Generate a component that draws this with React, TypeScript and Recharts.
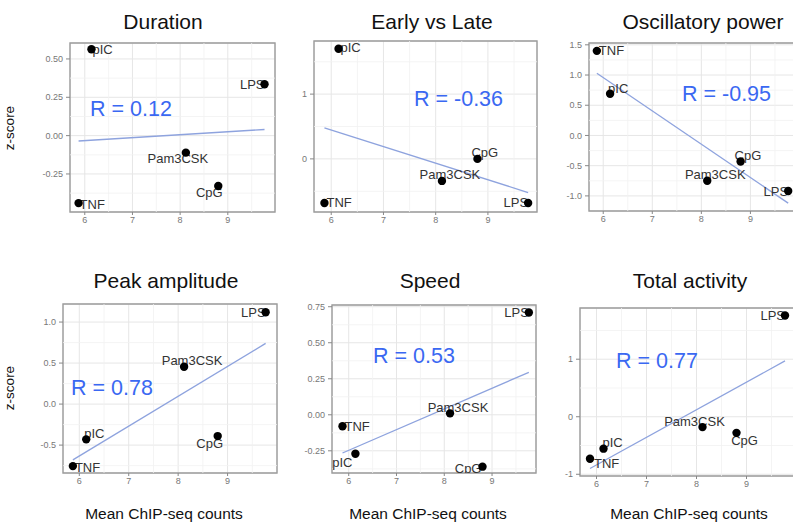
import { ScatterChart, Scatter, XAxis, YAxis, CartesianGrid, ReferenceLine, ReferenceArea } from "recharts"

// stimuli and their mean ChIP-seq counts (x, shared by every panel)
const stimuli = ["TNF", "pIC", "Pam3CSK", "CpG", "LPS"]
const chipCounts = [5.87, 6.14, 8.12, 8.8, 9.77]

// z-scores per feature, same order as stimuli
const duration = [-0.44, 0.563, -0.111, -0.328, 0.335]
const earlyVsLate = [-0.68, 1.7, -0.34, 0.0, -0.68]
const oscillatoryPower = [1.4, 0.69, -0.75, -0.43, -0.92]
const peakAmplitude = [-0.756, -0.43, 0.455, -0.39, 1.12]
const speed = [-0.08, -0.27, 0.01, -0.36, 0.71]
const totalActivity = [-0.73, -0.555, -0.18, -0.28, 1.76]

const panelTitles = ["Duration", "Early vs Late", "Oscillatory power", "Peak amplitude", "Speed", "Total activity"]
const rLabels = ["R = 0.12", "R = -0.36", "R = -0.95", "R = 0.78", "R = 0.53", "R = 0.77"]

// fitted line values at the smallest and the largest x
const fitStart = [-0.035, 0.48, 1.03, -0.68, -0.265, -0.9]
const fitEnd = [0.04, -0.52, -1.12, 0.74, 0.295, 0.97]

const xTicks = [6, 7, 8, 9]
const yTicks = [
  [-0.25, 0, 0.25, 0.5],
  [0, 1],
  [-1, -0.5, 0, 0.5, 1, 1.5],
  [-0.5, 0, 0.5, 1],
  [-0.25, 0, 0.25, 0.5, 0.75],
  [-1, 0, 1],
]
const yDecimals = [2, 0, 1, 1, 2, 0]
const series = [duration, earlyVsLate, oscillatoryPower, peakAmplitude, speed, totalActivity]

type Place = [string, number, number]
interface Panel {
  left: number
  top: number
  width: number
  height: number
  xDomain: [number, number]
  yDomain: [number, number]
  titleX: number
  titleY: number
  rX: number
  rY: number
  labels: Record<string, Place>
}

const panels: Panel[] = [
  {
    left: 70, top: 43, width: 205, height: 169, xDomain: [5.69, 9.99], yDomain: [-0.498, 0.604],
    titleX: 163, titleY: 29, rX: 90, rY: 116,
    labels: { TNF: ["start", 1, 1], pIC: ["start", 1, 0], Pam3CSK: ["middle", -8, 6], CpG: ["middle", -9, 7], LPS: ["end", 0, 0] },
  },
  {
    left: 314, top: 41, width: 223, height: 171, xDomain: [5.67, 9.94], yDomain: [-0.82, 1.82],
    titleX: 432, titleY: 29, rX: 414, rY: 106,
    labels: { TNF: ["start", 2, 0], pIC: ["start", 2, -1], Pam3CSK: ["middle", 8, -6], CpG: ["start", -6, -6], LPS: ["end", 0, 0] },
  },
  {
    left: 589, top: 43, width: 209, height: 168, xDomain: [5.71, 9.97], yDomain: [-1.25, 1.53],
    titleX: 703, titleY: 29, rX: 682, rY: 101,
    labels: { TNF: ["start", 2, 0], pIC: ["start", -2, -5], Pam3CSK: ["middle", 8, -6], CpG: ["start", -6, -6], LPS: ["end", 0, 0] },
  },
  {
    left: 63, top: 304, width: 214, height: 169, xDomain: [5.67, 10.0], yDomain: [-0.84, 1.22],
    titleX: 166, titleY: 288, rX: 71, rY: 395,
    labels: { TNF: ["start", 2, 1], pIC: ["start", -2, -6], Pam3CSK: ["middle", 8, -6], CpG: ["middle", -8, 7], LPS: ["end", 0, 0] },
  },
  {
    left: 332, top: 305, width: 204, height: 168, xDomain: [5.65, 9.92], yDomain: [-0.404, 0.762],
    titleX: 430, titleY: 288, rX: 373, rY: 363,
    labels: { TNF: ["start", 2, 0], pIC: ["end", -3, 9], Pam3CSK: ["middle", 8, -6], CpG: ["end", -1, 2], LPS: ["end", 0, 0] },
  },
  {
    left: 580, top: 308, width: 216, height: 168, xDomain: [5.67, 9.99], yDomain: [-1.03, 1.89],
    titleX: 690, titleY: 288, rX: 616, rY: 368,
    labels: { TNF: ["start", 4, 5], pIC: ["start", -1, -6], Pam3CSK: ["middle", -8, -6], CpG: ["middle", 8, 8], LPS: ["end", 0, 0] },
  },
]

const FONT = "'Liberation Sans', Arial, Helvetica, sans-serif"
const Y_W = 40
const PAD_T = 10
const PAD_R = 10
const X_H = 20

function minors(ticks: number[], domain: [number, number]) {
  const step = ticks.length > 1 ? ticks[1] - ticks[0] : 1
  const out: number[] = []
  for (let v = ticks[0] - step / 2; v < domain[1]; v += step) {
    if (v > domain[0] + 0.001 && v < domain[1] - 0.001) out.push(v)
  }
  return out
}

function ScatterPanel({ index }: { index: number }) {
  const p = panels[index]
  const data = stimuli.map((name, i) => ({ x: chipCounts[i], y: series[index][i], name }))
  const xMin = Math.min(...chipCounts)
  const xMax = Math.max(...chipCounts)
  const tickStyle = { fontSize: 9, fill: "#777", fontFamily: FONT }

  const renderPoint = (props: any) => {
    const { cx, cy, payload } = props
    const [anchor, dx, dy] = p.labels[payload.name]
    return (
      <g>
        <text x={cx + dx} y={cy + dy} dy="0.35em" textAnchor={anchor as any} fontSize={13} fill="#333" fontFamily={FONT}>
          {payload.name}
        </text>
        <circle cx={cx} cy={cy} r={4.2} fill="#000" />
      </g>
    )
  }

  return (
    <div style={{ position: "absolute", left: p.left - Y_W, top: p.top - PAD_T }}>
      <ScatterChart
        width={p.width + Y_W + PAD_R}
        height={p.height + PAD_T + X_H}
        margin={{ top: PAD_T, right: PAD_R, bottom: 0, left: 0 }}
      >
        <CartesianGrid stroke="#e6e6e6" strokeWidth={1} />
        {minors(xTicks, p.xDomain).map((v) => (
          <ReferenceLine key={"mx" + v} x={v} stroke="#f1f1f1" strokeWidth={0.8} />
        ))}
        {minors(yTicks[index], p.yDomain).map((v) => (
          <ReferenceLine key={"my" + v} y={v} stroke="#f1f1f1" strokeWidth={0.8} />
        ))}
        <ReferenceArea
          x1={p.xDomain[0]}
          x2={p.xDomain[1]}
          y1={p.yDomain[0]}
          y2={p.yDomain[1]}
          fill="none"
          stroke="#9c9c9c"
          strokeWidth={1.4}
          ifOverflow="extendDomain"
        />
        <XAxis
          type="number"
          dataKey="x"
          domain={p.xDomain}
          ticks={xTicks}
          interval={0}
          allowDataOverflow
          height={X_H}
          axisLine={false}
          tickSize={3}
          tickMargin={2}
          tickLine={{ stroke: "#888" }}
          tick={tickStyle}
        />
        <YAxis
          type="number"
          dataKey="y"
          domain={p.yDomain}
          ticks={yTicks[index]}
          interval={0}
          allowDataOverflow
          width={Y_W}
          axisLine={false}
          tickSize={4}
          tickMargin={3}
          tickLine={{ stroke: "#888" }}
          tick={tickStyle}
          tickFormatter={(v: number) => v.toFixed(yDecimals[index])}
        />
        <ReferenceLine
          segment={[
            { x: xMin, y: fitStart[index] },
            { x: xMax, y: fitEnd[index] },
          ]}
          stroke="#8ea3de"
          strokeWidth={1.3}
        />
        <Scatter data={data} shape={renderPoint} isAnimationActive={false} />
      </ScatterChart>
    </div>
  )
}

export default function App() {
  const xLabelCenters = [164, 428, 689]
  return (
    <div style={{ position: "absolute", left: 0, top: 0, width: 793, height: 527, overflow: "hidden", background: "#fff" }}>
      {panels.map((_, i) => (
        <ScatterPanel key={i} index={i} />
      ))}
      <svg width={793} height={527} style={{ position: "absolute", left: 0, top: 0, pointerEvents: "none" }}>
        {panels.map((p, i) => (
          <g key={i} fontFamily={FONT}>
            <text x={p.titleX} y={p.titleY} textAnchor="middle" fontSize={21} fill="#111">
              {panelTitles[i]}
            </text>
            <text x={p.rX} y={p.rY} fontSize={21.5} fill="#3a68f2">
              {rLabels[i]}
            </text>
          </g>
        ))}
        {[128, 388].map((cy) => (
          <text key={cy} x={14} y={cy} transform={`rotate(-90 14 ${cy})`} textAnchor="middle" fontSize={13.5} fill="#111" fontFamily={FONT}>
            z-score
          </text>
        ))}
        {xLabelCenters.map((cx) => (
          <text key={cx} x={cx} y={519} textAnchor="middle" fontSize={15.5} fill="#111" fontFamily={FONT}>
            Mean ChIP-seq counts
          </text>
        ))}
      </svg>
    </div>
  )
}
